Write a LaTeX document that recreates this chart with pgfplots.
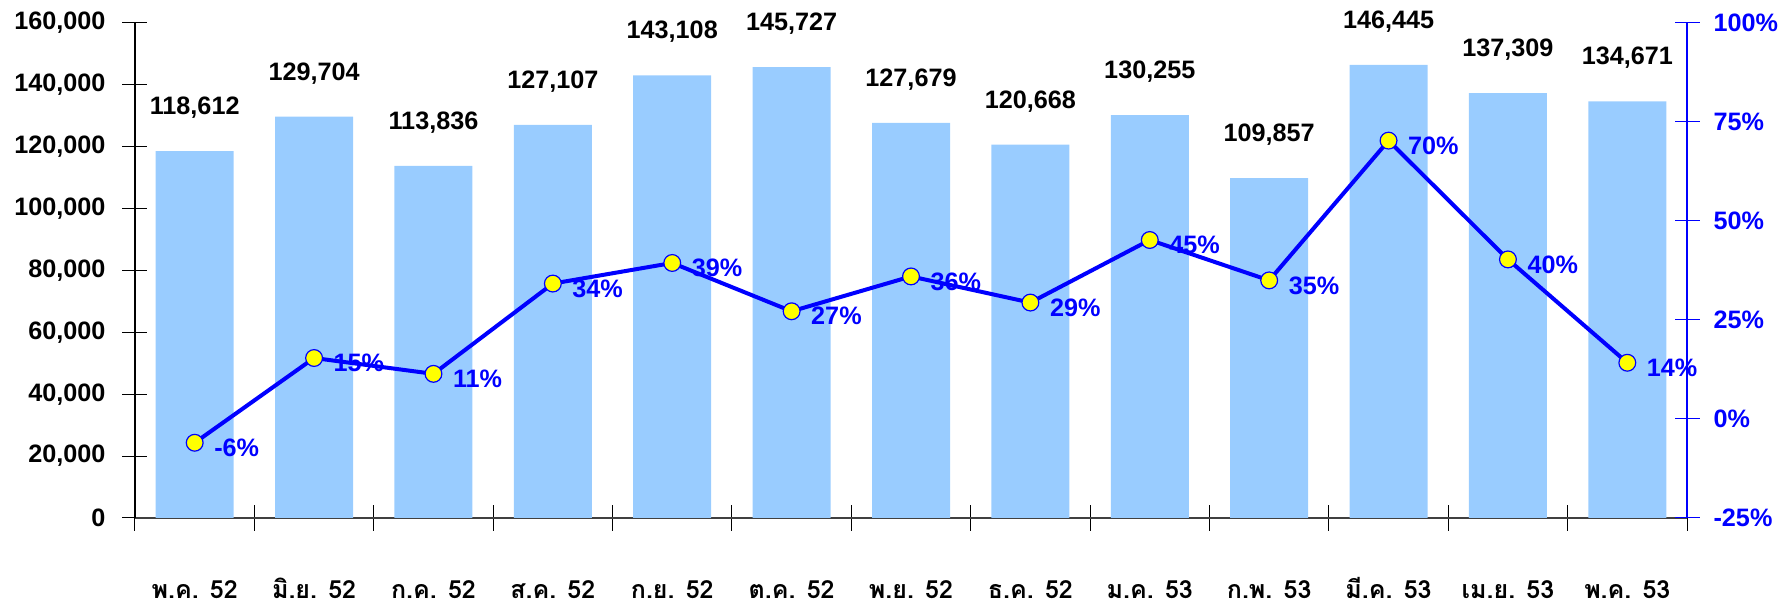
\documentclass[border=0pt]{standalone}
\usepackage{pgfplots}
\pgfplotsset{compat=1.18}
\usepackage{pgfplotstable}
\usepackage{fontspec}
\setmainfont{Liberation Sans}
\newfontfamily\thaifont[Script=Thai]{Loma}
\definecolor{barblue}{HTML}{99CCFF}
\definecolor{lineblue}{HTML}{0000FF}
\definecolor{mkyellow}{HTML}{FFFF00}
\definecolor{axgray}{HTML}{404040}

\pgfplotstableread{
x  y      lbl      p     pl
0  118612 118,612  -6.0  -6
1  129704 129,704  15.4  15
2  113836 113,836  11.4  11
3  127107 127,107  34.2  34
4  143108 143,108  39.4  39
5  145727 145,727  27.2  27
6  127679 127,679  36.0  36
7  120668 120,668  29.4  29
8  130255 130,255  45.2  45
9  109857 109,857  35.0  35
10 146445 146,445  70.3  70
11 137309 137,309  40.3  40
12 134671 134,671  14.2  14
}\data

\begin{document}
\begin{tikzpicture}[font=\bfseries\fontsize{12.6}{14}\selectfont]
\useasboundingbox (-67.5pt,-43pt) rectangle (828pt,259pt);
\begin{axis}[
  at={(0pt,0pt)}, anchor=south west,
  scale only axis, width=776pt, height=247.5pt,
  xmin=-0.5, xmax=12.5, ymin=0, ymax=160000,
  clip=false,
  axis x line*=bottom, axis y line*=left,
  axis line style={-},
  x axis line style={draw=axgray, line width=0.6pt},
  y axis line style={draw=black, line width=0.6pt},
  tick align=center,
  major tick length=12.5pt,
  minor tick length=12.5pt,
  tick style={black, line width=0.5pt},
  xtick={0,...,12},
  major x tick style={draw=none},
  minor xtick={-0.5,0.5,...,12.5},
  xticklabels={พ.ค. 52, มิ.ย. 52, ก.ค. 52, ส.ค. 52, ก.ย. 52, ต.ค. 52, พ.ย. 52, ธ.ค. 52, ม.ค. 53, ก.พ. 53, มี.ค. 53, เม.ย. 53, พ.ค. 53},
  xticklabel style={font=\thaifont\bfseries\fontsize{12.5}{14}\selectfont, anchor=base, yshift=-34pt},
  ytick={0,20000,...,160000},
  yticklabels={0,{20,000},{40,000},{60,000},{80,000},{100,000},{120,000},{140,000},{160,000}},
  yticklabel style={font=\bfseries\fontsize{12.6}{14}\selectfont, anchor=east, xshift=-5pt},
  scaled y ticks=false,
]
\addplot[ybar, bar width=39pt, bar shift=0pt, fill=barblue, draw=none,
  point meta=explicit symbolic,
  nodes near coords={\pgfplotspointmeta},
  every node near coord/.append style={anchor=base, inner sep=0pt, yshift=18.25pt, text=black, font=\bfseries\fontsize{12.6}{14}\selectfont}]
  table[x=x, y=y, meta=lbl]{\data};
\end{axis}
\begin{axis}[
  at={(0pt,0pt)}, anchor=south west,
  scale only axis, width=776pt, height=247.5pt,
  xmin=-0.5, xmax=12.5, ymin=-25, ymax=100,
  clip=false,
  axis x line=none, axis y line*=right,
  axis line style={-},
  y axis line style={draw=lineblue, line width=0.6pt},
  tick align=center,
  major tick length=12.5pt,
  tick style={lineblue, line width=0.5pt},
  ytick={-25,0,25,50,75,100},
  yticklabels={-25\%,0\%,25\%,50\%,75\%,100\%},
  yticklabel style={font=\bfseries\fontsize{12.6}{14}\selectfont, text=lineblue, anchor=west, xshift=3.5pt},
]
\addplot[lineblue, line width=2pt, mark=*, mark size=4.2pt,
  mark options={fill=mkyellow, draw=lineblue, line width=0.6pt},
  point meta=explicit symbolic,
  nodes near coords={\pgfplotspointmeta\%},
  every node near coord/.append style={anchor=west, inner sep=0pt, xshift=9.5pt, yshift=-2.5pt, text=lineblue, font=\bfseries\fontsize{12.6}{14}\selectfont}]
  table[x=x, y=p, meta=pl]{\data};
\end{axis}
\end{tikzpicture}
\end{document}
